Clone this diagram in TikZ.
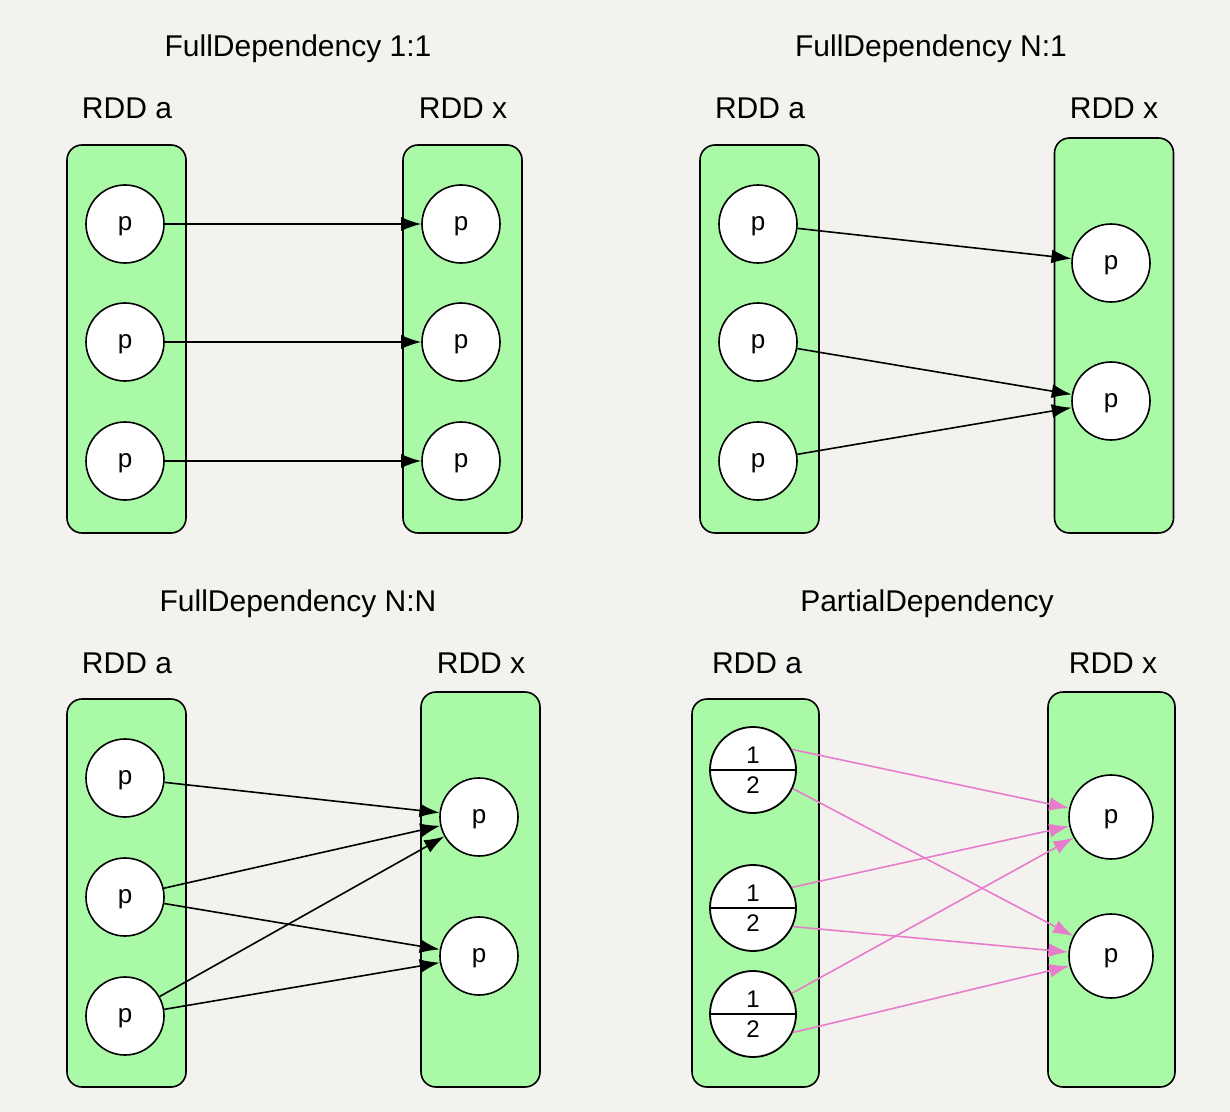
\documentclass[tikz,border=0pt]{standalone}
\usepackage{fontspec}
\setmainfont{Liberation Sans}
\usetikzlibrary{arrows.meta,shapes.multipart}
\definecolor{bgcol}{RGB}{243,242,239}
\definecolor{rddgreen}{RGB}{169,249,166}
\definecolor{linkpink}{RGB}{232,124,204}

\tikzset{
  rdd/.style    = {draw, rounded corners=7.5pt, fill=rddgreen, line width=0.8pt, minimum width=59.5pt, minimum height=194pt},
  rdd tall/.style = {rdd, minimum height=197.5pt},
  part/.style   = {draw, circle, fill=white, line width=0.8pt, minimum size=39pt, inner sep=0pt, text depth=0pt, font=\fontsize{13}{15}\selectfont},
  halves/.style = {draw, circle split, fill=white, line width=0.9pt, minimum size=43pt, inner sep=3pt, font=\fontsize{12}{14}\selectfont},
  title/.style  = {font=\fontsize{15}{18}\selectfont},
  link/.style   = {-{Latex[length=10pt,width=7pt]}, line width=0.8pt},
  pink link/.style = {link, draw=linkpink, -{Latex[length=10pt,width=7pt,color=linkpink]}}
}

\begin{document}
\begin{tikzpicture}[x=0.5pt, y=-0.5pt]

\path[use as bounding box, fill=bgcol] (0,0) rectangle (1230,1112);

% FullDependency 1:1
\node[title] (t1) at (298,49) {FullDependency 1:1};
\node[title] (ol) at (127,108) {RDD a};
\node[title] (xl) at (463,108) {RDD x};
\node[rdd] (ob) at (126.5,339) {};
\node[rdd] (oxb) at (462.5,339) {};
\foreach \i/\y in {1/224,2/342,3/461} {
  \node[part] (oa\i) at (125,\y) {p};
  \node[part] (ox\i) at (461,\y) {p};
}
\foreach \i in {1,...,3}
  \draw[link] (oa\i) -- (ox\i);

% FullDependency N:1
\node[title] (t2) at (931,49) {FullDependency N:1};
\node[title] (nl) at (760,108) {RDD a};
\node[title] (nxl) at (1114,108) {RDD x};
\node[rdd] (nb) at (759.5,339) {};
\node[rdd tall] (nxb) at (1114,335.5) {};
\foreach \i/\y in {1/224,2/342,3/461}
  \node[part] (na\i) at (758,\y) {p};
\foreach \i/\y in {1/263,2/401}
  \node[part] (nx\i) at (1111,\y) {p};
\draw[link] (na1) -- (nx1);
\foreach \i in {2,3}
  \draw[link] (na\i) -- (nx2);

% FullDependency N:N
\node[title] (t3) at (298,604) {FullDependency N:N};
\node[title] (ml) at (127,663) {RDD a};
\node[title] (mxl) at (481,663) {RDD x};
\node[rdd] (mb) at (126.5,893) {};
\node[rdd tall] (mxb) at (480.5,889.5) {};
\foreach \i/\y in {1/778,2/897,3/1016}
  \node[part] (ma\i) at (125,\y) {p};
\foreach \i/\y in {1/817,2/956}
  \node[part] (mx\i) at (479,\y) {p};
\draw[link] (ma1) -- (mx1);
\foreach \i in {2,3} {
  \draw[link] (ma\i) -- (mx1);
  \draw[link] (ma\i) -- (mx2);
}

% PartialDependency
\node[title] (t4) at (927,604) {PartialDependency};
\node[title] (pl) at (757,663) {RDD a};
\node[title] (pxl) at (1113,663) {RDD x};
\node[rdd, minimum width=63.5pt] (pb) at (755.5,893) {};
\node[rdd tall, minimum width=63.5pt] (pxb) at (1111.5,889.5) {};
\foreach \i/\y in {1/770,2/908,3/1014}
  \node[halves] (pa\i) at (753,\y) {1\nodepart{lower}2};
\foreach \i/\y in {1/817,2/956}
  \node[part, minimum size=42pt] (px\i) at (1111,\y) {p};
\foreach \i in {1,...,3} {
  \draw[pink link] (pa\i.28) -- (px1);
  \draw[pink link] (pa\i.-25) -- (px2);
}

\end{tikzpicture}
\end{document}
